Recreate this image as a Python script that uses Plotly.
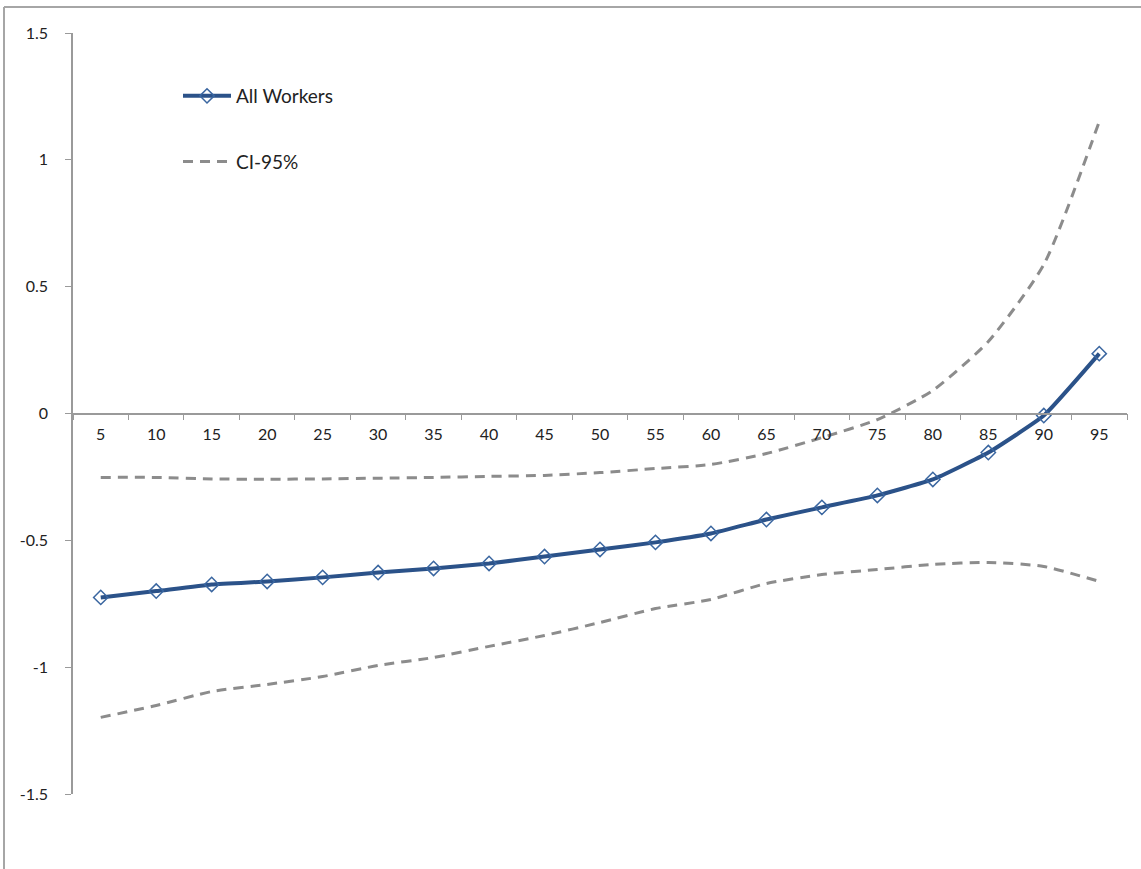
import plotly.graph_objects as go

percentiles = ["5", "10", "15", "20", "25", "30", "35", "40", "45", "50",
               "55", "60", "65", "70", "75", "80", "85", "90", "95"]
all_workers = [-0.725, -0.700, -0.674, -0.662, -0.646, -0.627, -0.611, -0.591, -0.564,
               -0.536, -0.508, -0.473, -0.418, -0.370, -0.323, -0.260, -0.154, -0.008, 0.236]
ci_upper = [-0.252, -0.252, -0.258, -0.259, -0.258, -0.255, -0.252, -0.248, -0.244,
            -0.233, -0.217, -0.201, -0.158, -0.095, -0.024, 0.091, 0.284, 0.587, 1.151]
ci_lower = [-1.198, -1.151, -1.096, -1.068, -1.037, -0.993, -0.962, -0.918, -0.875,
            -0.824, -0.769, -0.733, -0.670, -0.635, -0.615, -0.595, -0.587, -0.603, -0.662]
y_ticks = [-1.5, -1, -0.5, 0, 0.5, 1, 1.5]
y_labels = ["-1.5", "-1", "-0.5", "0", "0.5", "1", "1.5"]

blue = "#2B5289"
gray = "#8C8C8C"
font = "Lato, 'Open Sans', sans-serif"

fig = go.Figure()
fig.add_trace(go.Scatter(
    x=percentiles, y=all_workers, name="All Workers", mode="lines+markers",
    line=dict(color=blue, width=4, shape="spline", smoothing=0.4),
    marker=dict(symbol="diamond-open", size=11, color="#3A66A0", line=dict(width=1.5)),
    legendgroup="a",
))
fig.add_trace(go.Scatter(
    x=percentiles, y=ci_upper, name="CI-95%", mode="lines",
    line=dict(color=gray, width=3, dash="10px,7px", shape="spline", smoothing=0.6),
    legendgroup="b",
))
fig.add_trace(go.Scatter(
    x=percentiles, y=ci_lower, name="CI-95% lower", mode="lines",
    line=dict(color=gray, width=3, dash="10px,7px", shape="spline", smoothing=0.6),
    legendgroup="b", showlegend=False,
))

L, R, T, B = 73, 14, 33, 75
W, H = 1141, 869
pw, ph = W - L - R, H - T - B

def px_x(p):
    return (p - L) / pw

def px_y(p):
    return (H - B - p) / ph

fig.update_layout(
    width=W, height=H,
    margin=dict(l=L, r=R, t=T, b=B),
    plot_bgcolor="white", paper_bgcolor="white",
    font=dict(family=font, size=16, color="#222222"),
    showlegend=True,
    legend=dict(
        x=px_x(178), y=px_y(77), xanchor="left", yanchor="top",
        traceorder="grouped", tracegroupgap=38,
        font=dict(size=19, color="#222222"),
        bgcolor="rgba(0,0,0,0)", itemwidth=48,
    ),
    xaxis=dict(
        type="category", range=[-0.5, 18.5],
        anchor="free", position=0.5,
        showline=True, linecolor="#9a9a9a", linewidth=1.5,
        ticks="outside", ticklen=6, tickcolor="#9a9a9a", tickson="boundaries",
        showgrid=False, zeroline=False,
        tickfont=dict(size=16), ticklabelstandoff=7,
    ),
    yaxis=dict(
        range=[-1.5, 1.5], tickvals=y_ticks, ticktext=y_labels,
        showline=True, linecolor="#9a9a9a", linewidth=1.5,
        ticks="outside", ticklen=6, tickcolor="#9a9a9a",
        showgrid=False, zeroline=False,
        tickfont=dict(size=16), ticklabelstandoff=14,
    ),
    shapes=[
        dict(type="line", xref="paper", yref="paper",
             x0=px_x(4), x1=px_x(1160), y0=px_y(7), y1=px_y(7),
             line=dict(color="#A6A6A6", width=2)),
        dict(type="line", xref="paper", yref="paper",
             x0=px_x(4), x1=px_x(4), y0=px_y(7), y1=px_y(880),
             line=dict(color="#A6A6A6", width=2)),
    ],
)

fig.write_html("out.html")
